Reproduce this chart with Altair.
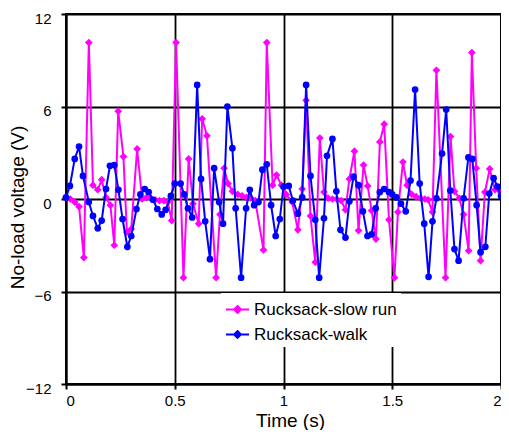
import altair as alt
import pandas as pd

series_names = ["Rucksack-slow run", "Rucksack-walk"]
series_colors = ["#FF00FF", "#0000FF"]
series_shapes = ["diamond", "circle"]
series_marker_sizes = [60, 45]
x_ticks = [0, 0.5, 1, 1.5, 2]
y_ticks = [-12, -6, 0, 6, 12]

walk_t = [0.000, 0.018, 0.040, 0.060, 0.078, 0.105, 0.124, 0.146, 0.164, 0.184,
          0.202, 0.222, 0.241, 0.260, 0.282, 0.300, 0.324, 0.342, 0.362, 0.380,
          0.400, 0.420, 0.440, 0.458, 0.482, 0.500, 0.527, 0.543, 0.561, 0.580,
          0.603, 0.621, 0.640, 0.662, 0.681, 0.704, 0.722, 0.742, 0.765, 0.780,
          0.805, 0.828, 0.845, 0.865, 0.885, 0.903, 0.923, 0.943, 0.964, 0.983,
          1.000, 1.024, 1.043, 1.066, 1.086, 1.104, 1.124, 1.146, 1.164, 1.186,
          1.200, 1.225, 1.243, 1.262, 1.285, 1.303, 1.322, 1.345, 1.365, 1.386,
          1.405, 1.424, 1.443, 1.463, 1.485, 1.500, 1.519, 1.540, 1.562, 1.584,
          1.605, 1.626, 1.647, 1.667, 1.685, 1.703, 1.729, 1.748, 1.767, 1.786,
          1.805, 1.828, 1.850, 1.868, 1.888, 1.906, 1.928, 1.946, 1.966, 1.984,
          2.000]
walk_v = [0.1, 0.85, 2.6, 3.4, 1.5, -0.2, -1.1, -1.9, -1.4, 0.65,
          2.15, 2.2, 0.6, -1.3, -3.1, -2.4, -0.65, 0.3, 0.65, 0.45,
          -0.05, -0.65, -1.0, -0.7, 0.2, 1.0, 1.0, 0.3, -0.6, -1.2,
          7.4, 1.3, -1.45, -3.9, 2.0, -0.2, -1.6, 6.0, 3.3, -0.6,
          -5.1, -0.6, 0.6, -0.4, -0.2, 1.9, 2.25, -0.4, -2.4, -1.3,
          0.8, 0.85, -0.1, -0.95, 0.1, 7.4, 1.5, -1.35, -5.1, -1.25,
          2.8, 3.9, 0.5, -2.0, -2.5, -0.15, 1.45, 0.9, -0.8, -2.4,
          -2.3, -0.6, 0.45, 0.65, 0.45, 0.3, 0.1, -0.3, -0.8, 1.2,
          7.1, 1.0, -1.6, -5.05, -1.45, 0.05, 2.95, 5.8, 0.55, -3.25,
          -4.0, 0.05, 2.7, 2.6, -0.4, -3.45, -3.1, 0.35, 1.35, 0.8,
          0.2]

run_t = [0.000, 0.020, 0.040, 0.060, 0.082, 0.105, 0.124, 0.146, 0.164, 0.184,
         0.204, 0.222, 0.240, 0.264, 0.280, 0.300, 0.327, 0.350, 0.370, 0.390,
         0.410, 0.430, 0.450, 0.468, 0.486, 0.506, 0.540, 0.564, 0.584, 0.610,
         0.626, 0.648, 0.690, 0.708, 0.727, 0.745, 0.765, 0.790, 0.810, 0.830,
         0.850, 0.870, 0.908, 0.923, 0.950, 0.968, 0.990, 1.012, 1.040, 1.066,
         1.086, 1.104, 1.124, 1.146, 1.167, 1.186, 1.205, 1.225, 1.245, 1.265,
         1.285, 1.303, 1.326, 1.345, 1.368, 1.387, 1.405, 1.425, 1.443, 1.463,
         1.485, 1.510, 1.526, 1.549, 1.568, 1.590, 1.610, 1.630, 1.650, 1.665,
         1.685, 1.703, 1.745, 1.768, 1.786, 1.808, 1.828, 1.851, 1.866, 1.886,
         1.906, 1.926, 1.948, 1.972, 2.000]
run_v = [0.1, 0.0, -0.2, -0.5, -3.8, 10.15, 0.9, 0.6, 1.25, 0.1,
         -0.4, -3.0, 5.7, 2.75, -2.15, -1.95, 3.25, 0.0, 0.1, 0.05,
         -0.05, -0.1, -0.1, -0.2, -1.4, 10.15, -5.1, 2.6, -0.3, -1.6,
         5.2, 4.1, -5.1, -1.0, 2.0, 1.0, 0.5, 0.3, 0.2, 0.1,
         0.05, -0.1, -3.3, 10.15, 0.9, 1.55, 0.9, 0.3, -0.2, -2.0,
         0.65, 6.4, -1.1, -4.1, 3.95, 0.45, 0.05, 0.0, 0.0, -0.1,
         -0.7, 1.3, 3.1, -2.05, 2.2, 0.85, -0.75, -2.6, 3.7, 4.85,
         -1.35, -5.1, -0.85, 2.4, 0.9, 0.3, 0.15, 0.05, 0.0, -0.05,
         -0.85, 8.35, -5.1, 4.05, 0.5, 0.05, -1.0, -3.35, 9.5, 2.0,
         -4.0, 0.45, 1.95, 0.6, 0.4]

df = pd.concat([
    pd.DataFrame({"t": run_t, "v": run_v, "series": series_names[0]}),
    pd.DataFrame({"t": walk_t, "v": walk_v, "series": series_names[1]}),
], ignore_index=True)

FONT = "Liberation Sans"
# stroke-only legend glyph: short line with a (filled-looking) diamond
legend_symbol = ("M-1,0H1 M0,-0.3L0.3,0L0,0.3L-0.3,0Z "
                 "M0,-0.16L0.16,0L0,0.16L-0.16,0Z M0,-0.05L0.05,0L0,0.05L-0.05,0Z")

color_scale = alt.Scale(domain=series_names, range=series_colors)
legend = alt.Legend(
    title=None, orient="none", legendX=155, legendY=279,
    symbolType=legend_symbol, symbolSize=529, symbolStrokeWidth=2,
    symbolOpacity=1,
    labelFontSize=17, labelFont=FONT, labelColor="black",
    fillColor="white", padding=4, rowPadding=4, labelOffset=4,
)

x_enc = alt.X("t:Q", scale=alt.Scale(domain=[0, 2], nice=False),
              axis=alt.Axis(values=x_ticks, title="Time (s)", labelExpr="datum.value",
                            labelPadding=4, titleY=42, titleX=224,
                            titleBaseline="alphabetic"))
y_enc = alt.Y("v:Q", scale=alt.Scale(domain=[-12, 12], nice=False),
              axis=alt.Axis(values=y_ticks, title="No-load voltage (V)", labelOffset=4,
                            labelPadding=10, titleX=-39, titleY=193))

layers = []
for name, shape, msize in zip(series_names, series_shapes, series_marker_sizes):
    sub = alt.Chart(df).transform_filter(alt.datum.series == name)
    line = sub.mark_line(strokeWidth=2).encode(
        x=x_enc, y=y_enc,
        color=alt.Color("series:N", scale=color_scale, legend=legend),
    )
    pts = sub.mark_point(filled=True, shape=shape, size=msize, opacity=1).encode(
        x=x_enc, y=y_enc,
        color=alt.Color("series:N", scale=color_scale, legend=None),
    )
    layers += [line, pts]

chart = alt.layer(*layers).properties(
    width=435, height=370,
    autosize=alt.AutoSizeParams(type="none"),
    padding={"left": 58, "top": 6, "right": 0, "bottom": 46},
).configure_view(stroke="black", strokeWidth=2).configure_axis(
    domainColor="black", domainWidth=2, tickColor="black", tickSize=5, tickWidth=2,
    gridColor="black", gridWidth=1.8, gridOpacity=1,
    labelFont=FONT, labelFontSize=15, labelColor="black",
    titleFont=FONT, titleFontSize=19, titleFontWeight="normal", titleColor="black",
)

chart.save("out.html", embed_options={"renderer": "svg", "actions": False})
